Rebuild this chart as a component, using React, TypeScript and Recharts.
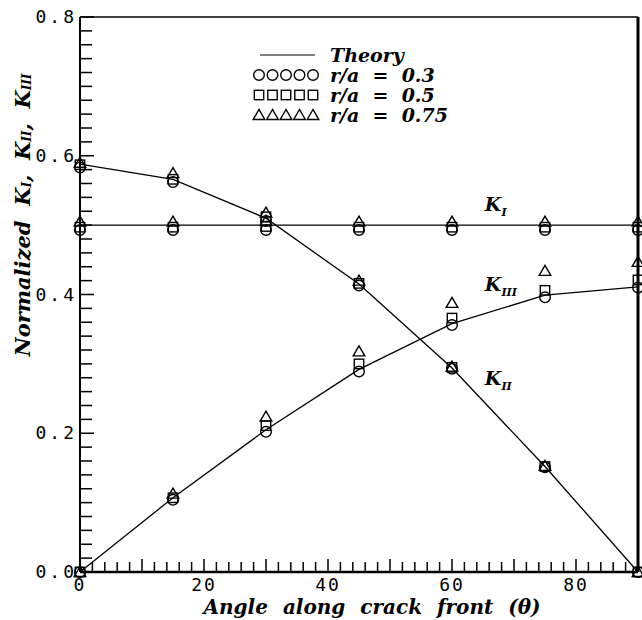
import { LineChart, Line, XAxis, YAxis, ReferenceLine, ReferenceDot, Legend } from "recharts";

// angle along the crack front (deg)
const angles = [0, 15, 30, 45, 60, 75, 90];

// theory curves
const kITheory = [0.5, 0.5, 0.5, 0.5, 0.5, 0.5, 0.5];
const kIITheory = [0.588, 0.566, 0.51, 0.415, 0.294, 0.152, 0];
const kIIITheory = [0, 0.107, 0.205, 0.292, 0.358, 0.399, 0.411];

// r/a = 0.3 (circles), 0.5 (squares), 0.75 (triangles)
const kI03 = [0.493, 0.493, 0.493, 0.493, 0.493, 0.493, 0.493];
const kI05 = [0.497, 0.497, 0.498, 0.497, 0.497, 0.497, 0.497];
const kI075 = [0.505, 0.505, 0.506, 0.505, 0.505, 0.505, 0.505];

const kII03 = [0.583, 0.562, 0.506, 0.413, 0.293, 0.151, 0];
const kII05 = [0.587, 0.566, 0.512, 0.416, 0.295, 0.152, 0];
const kII075 = [0.59, 0.575, 0.518, 0.42, 0.296, 0.153, 0];

const kIII03 = [0, 0.104, 0.202, 0.289, 0.356, 0.396, 0.41];
const kIII05 = [0, 0.107, 0.211, 0.3, 0.366, 0.406, 0.421];
const kIII075 = [0, 0.113, 0.224, 0.318, 0.388, 0.434, 0.447];

const xLabels = [0, 20, 40, 60, 80];
const yLabels = ["0.0", "0.2", "0.4", "0.6", "0.8"];

const xTicks = Array.from({ length: 46 }, (_, i) => i * 2);
const yTicks = Array.from({ length: 41 }, (_, i) => Math.round(i * 2) / 100);

const rows = angles.map((a, i) => ({
  angle: a,
  kITheory: kITheory[i],
  kIITheory: kIITheory[i],
  kIIITheory: kIIITheory[i],
  kI03: kI03[i],
  kI05: kI05[i],
  kI075: kI075[i],
  kII03: kII03[i],
  kII05: kII05[i],
  kII075: kII075[i],
  kIII03: kIII03[i],
  kIII05: kIII05[i],
  kIII075: kIII075[i],
}));

const monoFont = "'DejaVu Sans Mono', monospace";
const serifFont = "'DejaVu Serif', serif";

const circleShape = (cx: number, cy: number, key?: string) => (
  <circle key={key} cx={cx} cy={cy} r={5.3} fill="none" stroke="#000" strokeWidth={1.4} />
);
const squareShape = (cx: number, cy: number, key?: string) => (
  <rect key={key} x={cx - 4.7} y={cy - 4.7} width={9.4} height={9.4} fill="none" stroke="#000" strokeWidth={1.4} />
);
const triangleShape = (cx: number, cy: number, key?: string) => (
  <polygon
    key={key}
    points={`${cx},${cy - 5.5} ${cx - 5.8},${cy + 4.5} ${cx + 5.8},${cy + 4.5}`}
    fill="none"
    stroke="#000"
    strokeWidth={1.4}
  />
);

const makeDot = (shape: typeof circleShape) => (p: any) => {
  const key = `${p.dataKey}-${p.index}`;
  if (p.cx == null || p.cy == null) return <g key={key} />;
  return shape(p.cx, p.cy, key);
};

// inward ticks, drawn with the labels
const XTick = (props: any) => {
  const { x, y, payload } = props;
  const v = payload.value;
  const len = v % 10 === 0 ? 13 : 10;
  return (
    <g>
      <rect x={x - 0.75} y={y - len} width={1.5} height={len} fill="#000" stroke="none" />
      {xLabels.includes(v) && (
        <text x={x} y={y + 19} textAnchor="middle" fontFamily={monoFont} fontSize={18} letterSpacing={2} fill="#000" stroke="none">
          {v}
        </text>
      )}
    </g>
  );
};

const YTick = (props: any) => {
  const { x, y, payload } = props;
  const idx = Math.round(payload.value * 100);
  const labeled = idx % 20 === 0;
  const len = labeled ? 14 : 12;
  return (
    <g>
      <rect x={x} y={y - 0.75} width={len} height={1.5} fill="#000" stroke="none" />
      {labeled && (
        <text x={x - 3} y={y + 6} textAnchor="end" fontFamily={monoFont} fontSize={18} letterSpacing={3} fill="#000" stroke="none">
          {yLabels[idx / 20]}
        </text>
      )}
    </g>
  );
};

const kText = (x: number, y: number, sub: string) => (
  <text x={x} y={y} fontFamily={serifFont} fontWeight="bold" fontStyle="italic" fontSize={19} fill="#000">
    K
    <tspan dy={5} fontSize={11}>
      {sub}
    </tspan>
  </text>
);

const kLabel = (sub: string) => (props: any) => {
  const vb = props.viewBox || {};
  return kText(vb.x, vb.y + 6, sub);
};

const yTitle = () => {
  const cx = 22;
  const cy = 215;
  return (
    <text
      x={cx}
      y={cy}
      transform={`rotate(-90, ${cx}, ${cy})`}
      textAnchor="middle"
      dominantBaseline="central"
      fontFamily={serifFont}
      fontWeight="bold"
      fontStyle="italic"
      fontSize={21}
      fill="#000"
      style={{ whiteSpace: "pre" }}
    >
      {"Normalized  K"}
      <tspan dy={5} fontSize={12}>I</tspan>
      <tspan dy={-5}>{",  K"}</tspan>
      <tspan dy={5} fontSize={12}>II</tspan>
      <tspan dy={-5}>{",  K"}</tspan>
      <tspan dy={5} fontSize={12}>III</tspan>
    </text>
  );
};

const xTitle = (props: any) => {
  const vb = props.viewBox || {};
  return (
    <text
      x={372}
      y={vb.y + 42}
      textAnchor="middle"
      fontFamily={serifFont}
      fontWeight="bold"
      fontStyle="italic"
      fontSize={20}
      wordSpacing={8}
      fill="#000"
    >
      Angle along crack front (θ)
    </text>
  );
};

const legendRows = [
  { shape: null, text: "Theory" },
  { shape: circleShape, text: "r/a  =  0.3" },
  { shape: squareShape, text: "r/a  =  0.5" },
  { shape: triangleShape, text: "r/a  =  0.75" },
];

const renderLegend = () => (
  <div style={{ fontFamily: serifFont, fontWeight: "bold", fontStyle: "italic", fontSize: 19, color: "#000" }}>
    {legendRows.map((r) => (
      <div key={r.text} style={{ display: "flex", alignItems: "center", height: 20 }}>
        <svg width={72} height={20}>
          {r.shape
            ? [9, 22.5, 36, 49.5, 63].map((cx) => r.shape!(cx, 10, String(cx)))
            : <line x1={10} x2={65} y1={10} y2={10} stroke="#000" strokeWidth={1.2} />}
        </svg>
        <span style={{ marginLeft: 8, whiteSpace: "pre", lineHeight: "20px" }}>{r.text}</span>
      </div>
    ))}
  </div>
);

export default function App() {
  return (
    <div style={{ position: "absolute", left: 0, top: 0, background: "#fff" }}>
      <LineChart width={642} height={620} data={rows} margin={{ top: 17, right: 4, bottom: 0, left: 0 }}>
        <XAxis
          dataKey="angle"
          type="number"
          domain={[0, 90]}
          ticks={xTicks}
          interval={0}
          tickSize={-6}
          tickMargin={6}
          tickLine={false}
          tick={<XTick />}
          height={48}
          axisLine={{ stroke: "#000", strokeWidth: 2.5 }}
          label={{ content: xTitle }}
        />
        <YAxis
          type="number"
          domain={[0, 0.8]}
          ticks={yTicks}
          interval={0}
          tickSize={-6}
          tickMargin={6}
          tickLine={false}
          tick={<YTick />}
          width={80}
          axisLine={{ stroke: "#000", strokeWidth: 2 }}
          label={{ content: yTitle }}
        />
        <ReferenceLine y={0.8} stroke="#000" strokeWidth={1.5} />

        <Line dataKey="kITheory" stroke="#000" strokeWidth={1.3} dot={false} isAnimationActive={false} />
        <Line dataKey="kIITheory" stroke="#000" strokeWidth={1.3} dot={false} isAnimationActive={false} />
        <Line dataKey="kIIITheory" stroke="#000" strokeWidth={1.3} dot={false} isAnimationActive={false} />

        <Line dataKey="kI03" stroke="none" dot={makeDot(circleShape)} activeDot={false} isAnimationActive={false} />
        <Line dataKey="kI05" stroke="none" dot={makeDot(squareShape)} activeDot={false} isAnimationActive={false} />
        <Line dataKey="kI075" stroke="none" dot={makeDot(triangleShape)} activeDot={false} isAnimationActive={false} />
        <Line dataKey="kII03" stroke="none" dot={makeDot(circleShape)} activeDot={false} isAnimationActive={false} />
        <Line dataKey="kII05" stroke="none" dot={makeDot(squareShape)} activeDot={false} isAnimationActive={false} />
        <Line dataKey="kII075" stroke="none" dot={makeDot(triangleShape)} activeDot={false} isAnimationActive={false} />
        <Line dataKey="kIII03" stroke="none" dot={makeDot(circleShape)} activeDot={false} isAnimationActive={false} />
        <Line dataKey="kIII05" stroke="none" dot={makeDot(squareShape)} activeDot={false} isAnimationActive={false} />
        <Line dataKey="kIII075" stroke="none" dot={makeDot(triangleShape)} activeDot={false} isAnimationActive={false} />

        <ReferenceLine x={90} stroke="#000" strokeWidth={3} />

        <ReferenceDot x={65.3} y={0.529} r={0} fill="none" stroke="none" label={{ content: kLabel("I") }} />
        <ReferenceDot x={65.3} y={0.413} r={0} fill="none" stroke="none" label={{ content: kLabel("III") }} />
        <ReferenceDot x={65.3} y={0.278} r={0} fill="none" stroke="none" label={{ content: kLabel("II") }} />

        <Legend
          content={renderLegend}
          layout="vertical"
          align="center"
          verticalAlign="middle"
          wrapperStyle={{ position: "absolute", left: 250, top: 45, width: 240 }}
        />
      </LineChart>
    </div>
  );
}
